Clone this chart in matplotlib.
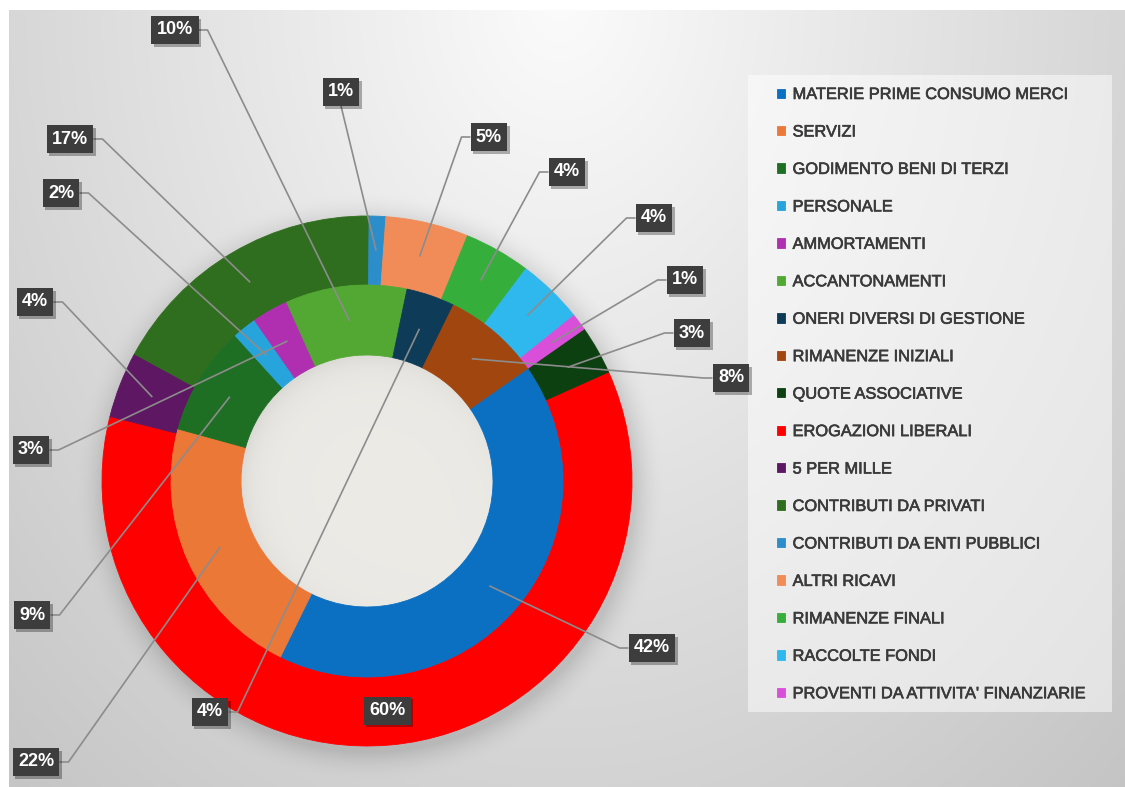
import numpy as np
import matplotlib
matplotlib.use("Agg")
import matplotlib.pyplot as plt
import matplotlib.patheffects as pe
from matplotlib.patches import Rectangle

W, H = 1125, 787

# ---- data -------------------------------------------------------------
cost_labels = ["MATERIE PRIME CONSUMO MERCI", "SERVIZI", "GODIMENTO BENI DI TERZI",
               "PERSONALE", "AMMORTAMENTI", "ACCANTONAMENTI",
               "ONERI DIVERSI DI GESTIONE", "RIMANENZE INIZIALI"]
cost_values = [42, 22, 9, 2, 3, 10, 4, 8]

revenue_labels = ["QUOTE ASSOCIATIVE", "EROGAZIONI LIBERALI", "5 PER MILLE",
                  "CONTRIBUTI DA PRIVATI", "CONTRIBUTI DA ENTI PUBBLICI",
                  "ALTRI RICAVI", "RIMANENZE FINALI", "RACCOLTE FONDI",
                  "PROVENTI DA ATTIVITA' FINANZIARIE"]
revenue_values = [3, 60, 4, 17, 1, 5, 4, 4, 1]

# ---- styling ------------------------------------------------------------
cost_colors = ["#0B6FC2", "#EB7837", "#1E6F24", "#28A4DC",
               "#B02FB0", "#52A832", "#0E3B57", "#A1460F"]
revenue_colors = ["#0D4010", "#FF0000", "#5E1763", "#306E1F", "#2C8DCB",
                  "#F18C58", "#35AE3B", "#2EB8EE", "#DA4FDA"]

# label box centres in pixels from the top-left corner (None = on the slice)
cost_label_pos = [(652, 648), (36, 762), (32, 615), (61, 193),
                  (31, 450), (175, 30), (210, 712), (731, 378)]
revenue_label_pos = [(692, 333), None, (35, 302), (70, 139), (341, 92),
                     (489, 137), (567, 172), (654, 218), (685, 280)]

CX, CY = 367, 481           # ring centre (pixels, from top)
R_OUT, R_MID, R_HOLE = 265, 196, 126
START = 35                  # degrees, first slice edge

# ---- background -----------------------------------------------------------
yy, xx = np.mgrid[0:H, 0:W] + 0.5
r = np.sqrt(((xx - 560) / 620.0) ** 2 + (yy / 800.0) ** 2)
v = 0.985 - 0.16 * r
d = np.hypot(xx - (CX + 3), yy - (CY + 6))
v = v - 0.11 * np.clip((R_OUT + 32 - d) / 32.0, 0, 1) ** 2
bg = np.dstack([v, v, v])

dh = np.hypot(xx - CX, yy - CY)
hole = dh < R_HOLE + 3
ang = np.arctan2(yy - CY, xx - CX)
dirf = 0.5 + 0.5 * np.cos(ang + 3 * np.pi / 4)
shade = 0.07 * np.exp(-np.clip(R_HOLE - dh, 0, None) / 14.0) * dirf
hole_rgb = np.array([0.922, 0.918, 0.900])[None, None, :] - shade[..., None]
bg[hole] = hole_rgb[hole]
bg[:10, :] = 1.0
bg[:, :9] = 1.0
bg = np.clip(bg, 0, 1)

fig = plt.figure(figsize=(W / 100, H / 100), dpi=100)
bg_ax = fig.add_axes([0, 0, 1, 1])
bg_ax.imshow(bg, extent=(0, W, 0, H), origin="upper", interpolation="bilinear")
bg_ax.set_xlim(0, W)
bg_ax.set_ylim(0, H)
bg_ax.axis("off")

ax = fig.add_axes([0, 0, 1, 1])
ax.set_facecolor("none")

center = (CX, H - CY)
outer, _ = ax.pie(revenue_values, colors=revenue_colors, radius=R_OUT,
                  center=center, startangle=START, counterclock=False,
                  wedgeprops=dict(width=R_OUT - R_MID, linewidth=0.6))
inner, _ = ax.pie(cost_values, colors=cost_colors, radius=R_MID,
                  center=center, startangle=START, counterclock=False,
                  wedgeprops=dict(width=R_MID - R_HOLE, linewidth=0.6))
for w in list(outer) + list(inner):
    w.set_edgecolor(w.get_facecolor())

ax.set_xlim(0, W)
ax.set_ylim(0, H)
ax.set_aspect("equal")
ax.axis("off")

# ---- legend -------------------------------------------------------------
ax.add_patch(Rectangle((748, H - 712), 364, 637, facecolor="white",
                       alpha=0.5, edgecolor="none", zorder=1))
leg = ax.legend(list(inner) + list(outer), cost_labels + revenue_labels,
                loc="upper left", bbox_to_anchor=(777 / W, 1 - 87 / H),
                bbox_transform=fig.transFigure, frameon=False,
                prop={"family": "Liberation Sans", "size": 11.8},
                labelcolor="#3a3a3a", labelspacing=1.37,
                handlelength=0.5, handleheight=0.5, handletextpad=0.45,
                borderpad=0, borderaxespad=0)
for txt in leg.get_texts():
    txt.set_path_effects([pe.withStroke(linewidth=0.45, foreground="#3a3a3a")])

# ---- data labels --------------------------------------------------------
items = []
for wedges, values, positions in ((inner, cost_values, cost_label_pos),
                                  (outer, revenue_values, revenue_label_pos)):
    for w, val, pos in zip(wedges, values, positions):
        mid = np.deg2rad((w.theta1 + w.theta2) / 2)
        rm = w.r - w.width / 2
        anchor = (w.center[0] + rm * np.cos(mid), w.center[1] + rm * np.sin(mid))
        xy = anchor if pos is None else (pos[0], H - pos[1])
        t = ax.text(xy[0], xy[1], f"{val}%", ha="center", va="center",
                    color="white", fontsize=13, fontweight="bold",
                    family="Liberation Sans", zorder=6,
                    bbox=dict(boxstyle="square,pad=0.3", fc="#3d3d3d", ec="none"))
        t.get_bbox_patch().set_path_effects(
            [pe.withSimplePatchShadow(offset=(2, -2), shadow_rgbFace="black",
                                      alpha=0.3), pe.Normal()])
        if pos is not None:
            items.append((t, anchor))

fig.canvas.draw()
renderer = fig.canvas.get_renderer()
inv = ax.transData.inverted()
for t, (axx, ayy) in items:
    bb = t.get_bbox_patch().get_window_extent(renderer)
    (x0, y0), (x1, y1) = inv.transform([(bb.x0, bb.y0), (bb.x1, bb.y1)])
    xc, yc = (x0 + x1) / 2, (y0 + y1) / 2
    dx, dy = axx - xc, ayy - yc
    if abs(dx) < 0.25 * abs(dy):
        xs, ys = [xc, axx], [y0 if dy < 0 else y1, ayy]
    elif dx > 0:
        xs, ys = [x1, x1 + 9, axx], [yc, yc, ayy]
    else:
        xs, ys = [x0, x0 - 9, axx], [yc, yc, ayy]
    ax.plot(xs, ys, color="#8c8c8c", lw=1.2, zorder=5, solid_capstyle="butt")

fig.savefig("out.png", dpi=100)
